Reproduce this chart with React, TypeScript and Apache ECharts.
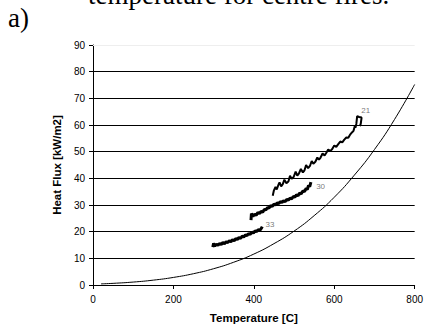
import React, { useEffect, useRef } from "react";
import * as echarts from "echarts";

// Reference curve
const curveT = [20, 50, 100, 150, 200, 250, 300, 350, 400, 450, 500, 550, 600, 650, 700, 750, 800];
const curveV = [0.42, 0.62, 1.1, 1.82, 2.84, 4.24, 6.11, 8.54, 11.6, 15.5, 20.2, 26.0, 32.9, 41.2, 50.8, 62.1, 75.2];

// Test 21
const t21 = [447, 450, 454, 457, 461, 464, 468, 472, 476, 481, 486, 490, 494, 499, 504, 508, 512, 517, 522, 526, 530, 535, 540, 544, 548, 553, 558, 562, 566, 571, 576, 580, 585, 590, 595, 600, 605, 610, 615, 620, 625, 630, 635, 640, 644, 648, 651, 653, 655, 657, 662, 668, 666, 664];
const v21 = [33.5, 35.5, 36.8, 35.8, 37.5, 38.5, 37.0, 37.8, 39.5, 38.2, 38.8, 41.0, 39.8, 40.5, 42.5, 41.0, 41.8, 43.5, 42.2, 43.0, 45.0, 43.8, 44.8, 46.5, 45.5, 46.2, 47.8, 47.0, 47.8, 49.3, 48.6, 49.5, 50.8, 50.2, 51.0, 52.3, 51.8, 52.8, 53.8, 53.5, 54.5, 55.3, 55.2, 56.5, 57.2, 57.8, 59.5, 59.0, 60.5, 63.3, 63.0, 62.8, 60.5, 59.6];

// Test 30
const t30 = [393, 394, 398, 402, 406, 410, 414, 418, 422, 426, 430, 434, 438, 442, 446, 450, 454, 458, 462, 466, 470, 474, 478, 482, 486, 490, 494, 498, 502, 506, 510, 514, 518, 522, 526, 530, 533, 536, 539, 542];
const v30 = [24.3, 26.8, 25.8, 26.5, 26.2, 27.2, 26.8, 27.6, 27.3, 28.3, 28.2, 29.0, 28.9, 29.8, 29.5, 30.3, 30.0, 30.8, 30.5, 31.3, 30.9, 31.6, 31.3, 32.1, 31.8, 32.6, 32.3, 33.2, 32.9, 33.8, 33.5, 34.5, 34.2, 35.3, 35.0, 36.2, 35.8, 37.3, 36.9, 38.6];

// Test 33
const t33 = [298, 300, 303, 307, 311, 315, 319, 323, 327, 331, 335, 339, 343, 347, 351, 355, 359, 363, 367, 371, 375, 379, 383, 387, 391, 395, 399, 403, 407, 411, 415, 419, 421];
const v33 = [14.2, 15.6, 14.6, 15.3, 14.9, 15.6, 15.2, 15.9, 15.5, 16.2, 15.9, 16.6, 16.2, 17.0, 16.6, 17.4, 17.1, 17.8, 17.5, 18.3, 18.0, 18.8, 18.5, 19.3, 19.0, 19.8, 19.5, 20.3, 20.0, 20.8, 20.5, 21.3, 21.9];

// Series labels
const labelNames = ["21", "30", "33"];
const labelT = [667, 555, 429];
const labelV = [65.4, 37.1, 22.7];

const xTicks = { min: 0, max: 800, interval: 200 };
const yTicks = { min: 0, max: 90, interval: 10 };

const zip = (a: number[], b: number[]) => a.map((x, i) => [x, b[i]]);

export default function App() {
  const ref = useRef<HTMLDivElement>(null);
  useEffect(() => {
    if (!ref.current) return;
    const chart = echarts.init(ref.current, null, { renderer: "svg" });
    chart.setOption({
      animation: false,
      textStyle: { fontFamily: "Liberation Sans" },
      grid: { left: 93, right: 10, top: 45, bottom: 48 },
      graphic: [
        {
          type: "text",
          left: 8,
          top: 4,
          style: { text: "a)", font: '27px "Liberation Serif"', fill: "#000" },
        },
        {
          type: "text",
          left: 88,
          top: -19,
          style: { text: "temperature for centre fires.", font: '27px "Liberation Serif"', fill: "#000" },
        },
      ],
      xAxis: {
        type: "value",
        ...xTicks,
        name: "Temperature [C]",
        nameLocation: "middle",
        nameGap: 27,
        nameTextStyle: { fontWeight: "bold", fontSize: 11.5, color: "#000", fontFamily: "Liberation Sans" },
        axisLine: { lineStyle: { color: "#000", width: 1 } },
        axisTick: { show: true, length: 4, lineStyle: { color: "#000" } },
        axisLabel: { color: "#000", fontSize: 10, margin: 9 },
        splitLine: { show: false },
      },
      yAxis: {
        type: "value",
        ...yTicks,
        name: "Heat Flux [kW/m2]",
        nameLocation: "middle",
        nameGap: 30,
        nameTextStyle: { fontWeight: "bold", fontSize: 11.5, color: "#000", fontFamily: "Liberation Sans" },
        axisLine: { show: true, lineStyle: { color: "#000", width: 1 } },
        axisTick: { show: true, length: 4, lineStyle: { color: "#000" } },
        axisLabel: { color: "#000", fontSize: 10, margin: 8 },
        splitLine: { show: true, showMaxLine: false, lineStyle: { color: "#000", width: 1 } },
      },
      series: [
        {
          type: "line",
          data: zip(curveT, curveV),
          smooth: true,
          showSymbol: false,
          lineStyle: { color: "#000", width: 1 },
          markLine: {
            silent: true,
            symbol: "none",
            label: { show: false },
            lineStyle: { color: "#eeeeee", type: "solid", width: 1 },
            data: [{ yAxis: 90 }],
          },
        },
        {
          type: "line",
          data: zip(t21, v21),
          showSymbol: false,
          lineStyle: { color: "#000", width: 2 },
        },
        {
          type: "line",
          data: zip(t30, v30),
          showSymbol: false,
          lineStyle: { color: "#000", width: 3 },
        },
        {
          type: "line",
          data: zip(t33, v33),
          showSymbol: false,
          lineStyle: { color: "#000", width: 3 },
        },
        {
          type: "scatter",
          symbolSize: 0,
          data: labelNames.map((n, i) => [labelT[i], labelV[i], n]),
          label: {
            show: true,
            position: "right",
            distance: 0,
            formatter: (p: any) => p.value[2],
            fontSize: 8,
            color: "#555",
          },
        },
      ],
    });
    return () => chart.dispose();
  }, []);
  return <div ref={ref} style={{ position: "absolute", left: 0, top: 0, width: 426, height: 333 }} />;
}
